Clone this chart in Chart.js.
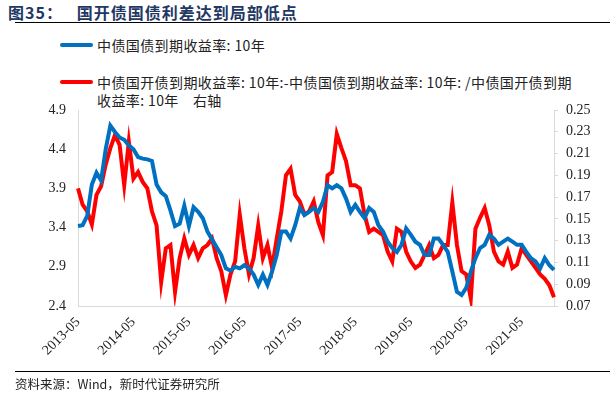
<!DOCTYPE html>
<html>
<head>
<meta charset="utf-8">
<script src="https://cdn.jsdelivr.net/npm/chart.js@4"></script>
<style>
  body { margin: 0; background: #fff; }
  #wrap { position: relative; width: 610px; height: 395px; overflow: hidden; font-family: "Noto Sans CJK SC", sans-serif; }
  #title { position: absolute; left: 8px; top: 0px; font-size: 16px; font-weight: bold; color: #1F3864; letter-spacing: 1px; white-space: nowrap; }
  .rule { position: absolute; left: 15px; width: 595px; height: 1px; background: #000; }
  .leg { position: absolute; left: 60px; font-size: 14px; color: #222; white-space: nowrap; line-height: 18px; letter-spacing: 0.4px; }
  .sw { position: absolute; left: 0; width: 33px; height: 4px; border-radius: 2px; }
  .leg span.t { position: absolute; left: 37px; top: 0; }
  #src { position: absolute; left: 15px; top: 374px; font-size: 12.5px; color: #222; white-space: nowrap; }
  canvas { position: absolute; left: 0; top: 0; }
</style>
</head>
<body>
<div id="wrap">
  <div id="title">图35：&nbsp;&nbsp;&nbsp;国开债国债利差达到局部低点</div>
  <div class="rule" style="top:22px"></div>
  <div class="leg" style="top:36px">
    <div class="sw" style="top:7px;background:#0070C0"></div>
    <span class="t">中债国债到期收益率: 10年</span>
  </div>
  <div class="leg" style="top:73px">
    <div class="sw" style="top:7px;background:#FF0000"></div>
    <span class="t">中债国开债到期收益率: 10年:-中债国债到期收益率: 10年: /中债国开债到期<br>收益率: 10年&nbsp;&nbsp;&nbsp;&nbsp;右轴</span>
  </div>
  <canvas id="c" width="610" height="395"></canvas>
  <div class="rule" style="top:371px"></div>
  <div id="src">资料来源：Wind，新时代证券研究所</div>
</div>
<script>
// monthly points, 2013-05 .. 2021-12
const startYear = 2013, startMonth = 5;
const govYield = [
  3.42, 3.43, 3.55, 3.95, 4.10, 4.00, 4.40, 4.70, 4.62, 4.55,
  4.52, 4.45, 4.40, 4.30, 4.28, 4.27, 4.25, 3.95, 3.85, 3.80,
  3.62, 3.42, 3.45, 3.68, 3.42, 3.66, 3.60, 3.52, 3.35, 3.25,
  3.15, 3.05, 2.88, 2.85, 2.90, 2.88, 2.92, 2.88, 2.80, 2.67,
  2.80, 2.67, 2.84, 3.05, 3.35, 3.35, 3.26, 3.43, 3.65, 3.56,
  3.60, 3.65, 3.60, 3.73, 3.94, 3.90, 3.94, 3.90, 3.77, 3.60,
  3.69, 3.60, 3.52, 3.65, 3.60, 3.43, 3.35, 3.22, 3.14, 3.09,
  3.18, 3.39, 3.31, 3.22, 3.18, 3.05, 3.05, 3.26, 3.26, 3.18,
  3.09, 2.84, 2.58, 2.54, 2.63, 2.84, 3.01, 3.14, 3.18, 3.31,
  3.26, 3.18, 3.22, 3.26, 3.22, 3.18, 3.18, 3.09, 3.01, 2.97,
  2.88, 3.01, 2.92, 2.86
];
const spreadRatio = [
  0.178, 0.163, 0.157, 0.145, 0.172, 0.180, 0.200, 0.215, 0.227, 0.218,
  0.181, 0.221, 0.187, 0.193, 0.184, 0.178, 0.157, 0.144, 0.092, 0.123,
  0.126, 0.083, 0.114, 0.132, 0.117, 0.126, 0.114, 0.123, 0.126, 0.132,
  0.114, 0.102, 0.080, 0.099, 0.111, 0.154, 0.123, 0.099, 0.114, 0.144,
  0.114, 0.126, 0.105, 0.132, 0.157, 0.190, 0.196, 0.172, 0.166, 0.154,
  0.157, 0.166, 0.147, 0.135, 0.190, 0.193, 0.228, 0.215, 0.203, 0.181,
  0.181, 0.178, 0.154, 0.138, 0.141, 0.138, 0.135, 0.120, 0.111, 0.141,
  0.138, 0.120, 0.111, 0.105, 0.108, 0.117, 0.126, 0.114, 0.117, 0.126,
  0.126, 0.165, 0.126, 0.102, 0.099, 0.077, 0.141, 0.151, 0.160, 0.144,
  0.120, 0.111, 0.108, 0.120, 0.105, 0.108, 0.123, 0.117, 0.111, 0.105,
  0.099, 0.095, 0.089, 0.078
];
const leftTicks = [2.4, 2.9, 3.4, 3.9, 4.4, 4.9];
const rightTicks = [0.07, 0.09, 0.11, 0.13, 0.15, 0.17, 0.19, 0.21, 0.23, 0.25];

const labels = govYield.map((v, i) => {
  const m = startMonth - 1 + i;
  const y = startYear + Math.floor(m / 12);
  const mm = (m % 12) + 1;
  return y + '-' + (mm < 10 ? '0' + mm : mm);
});

const axisFont = { family: '"Liberation Serif", serif', size: 14 };

new Chart(document.getElementById('c'), {
  type: 'line',
  data: {
    labels: labels,
    datasets: [{
      label: '中债国债到期收益率:10年',
      data: govYield,
      borderColor: '#0070C0',
      borderWidth: 4,
      pointRadius: 0,
      tension: 0,
      yAxisID: 'y'
    }, {
      label: '利差比率 右轴',
      data: spreadRatio,
      borderColor: '#FF0000',
      borderWidth: 4,
      pointRadius: 0,
      tension: 0,
      yAxisID: 'y1'
    }]
  },
  options: {
    responsive: false,
    animation: false,
    devicePixelRatio: 1,
    layout: { padding: { top: 110, left: 0, right: 0, bottom: 0 } },
    plugins: { legend: { display: false }, tooltip: { enabled: false } },
    scales: {
      x: {
        offset: false,
        grid: { display: false, drawTicks: false },
        border: { display: true, color: '#d9d9d9', width: 1 },
        ticks: {
          autoSkip: false,
          minRotation: 45,
          maxRotation: 45,
          padding: 8,
          color: '#222',
          font: axisFont,
          callback: function (val) {
            const l = labels[val];
            return l.endsWith('-05') ? l : null;
          }
        },
        afterFit: s => { s.height = 89; }
      },
      y: {
        position: 'left',
        min: 2.4,
        max: 4.9,
        afterBuildTicks: s => { s.ticks = leftTicks.map(v => ({ value: v })); },
        grid: { display: false, drawTicks: false },
        border: { display: true, color: '#d9d9d9', width: 1 },
        ticks: { padding: 12, color: '#222', font: axisFont, callback: v => v.toFixed(1) },
        afterFit: s => { s.width = 78; }
      },
      y1: {
        position: 'right',
        min: 0.07,
        max: 0.25,
        afterBuildTicks: s => { s.ticks = rightTicks.map(v => ({ value: v })); },
        grid: { display: true, drawOnChartArea: false, drawTicks: true, tickLength: 4, color: '#d9d9d9' },
        border: { display: true, color: '#d9d9d9', width: 1 },
        ticks: { padding: 8, color: '#222', font: axisFont, callback: v => v.toFixed(2) },
        afterFit: s => { s.width = 56; }
      }
    }
  }
});
</script>
</body>
</html>
